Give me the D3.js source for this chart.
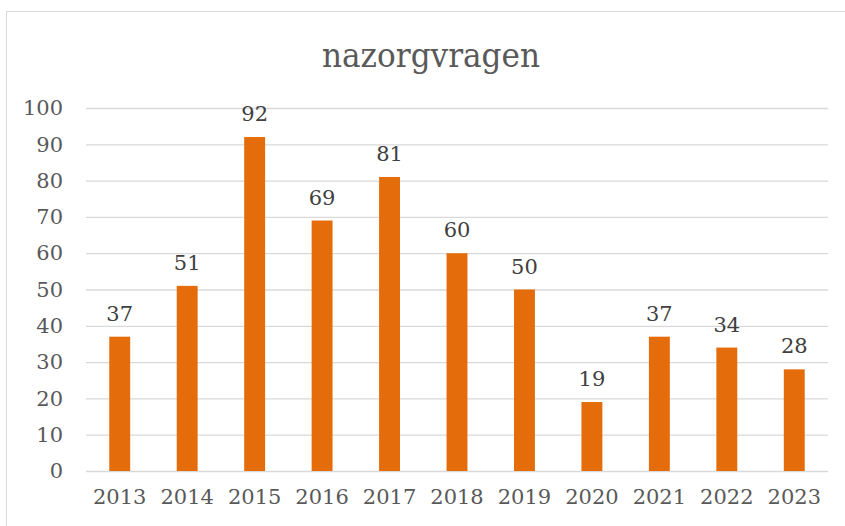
<!DOCTYPE html>
<html><head><meta charset="utf-8">
<script src="https://cdn.jsdelivr.net/npm/d3@7"></script>
<style>html,body{margin:0;padding:0;background:#fff;}svg{display:block;}</style>
</head><body>
<svg id="c" width="845" height="526"></svg>
<script>
const categories = ["2013","2014","2015","2016","2017","2018","2019","2020","2021","2022","2023"];
const values = [37, 51, 92, 69, 81, 60, 50, 19, 37, 34, 28];
const yTicks = [0,10,20,30,40,50,60,70,80,90,100];
const title = "nazorgvragen";

(function(){
const svg = d3.select("#c");
const font = "'DejaVu Serif', serif";
const pL = 86, pR = 828, pT = 108, pB = 471;

svg.append("rect").attr("x",6.5).attr("y",11.5).attr("width",900).attr("height",600)
  .attr("fill","#fff").attr("stroke","#d9d9d9").attr("stroke-width",1);

const x = d3.scaleBand().domain(categories).range([pL,pR]).paddingInner(0.69).paddingOuter(0.345);
const y = d3.scaleLinear().domain([0,100]).range([pB,pT]);

svg.append("g").selectAll("line").data(yTicks).join("line")
  .attr("x1",pL).attr("x2",pR).attr("y1",d=>y(d)+0.5).attr("y2",d=>y(d)+0.5)
  .attr("stroke","#d9d9d9").attr("stroke-width",1.3);

const yAxis = d3.axisLeft(y).tickValues(yTicks).tickSize(0).tickPadding(23);
const gy = svg.append("g").attr("transform",`translate(${pL},0)`).call(yAxis);
gy.select(".domain").remove();
gy.selectAll("text").attr("font-family",font).attr("font-size",21).attr("fill","#595959");

const xAxis = d3.axisBottom(x).tickSize(0).tickPadding(18);
const gx = svg.append("g").attr("transform",`translate(0,${pB})`).call(xAxis);
gx.select(".domain").remove();
gx.selectAll("text").attr("font-family",font).attr("font-size",21).attr("fill","#595959");

svg.append("g").selectAll("rect").data(values).join("rect")
  .attr("x",(d,i)=>x(categories[i]))
  .attr("width",x.bandwidth())
  .attr("y",d=>y(d))
  .attr("height",d=>pB-y(d))
  .attr("fill","#e46c0a");

svg.append("g").selectAll("text").data(values).join("text")
  .attr("x",(d,i)=>x(categories[i])+x.bandwidth()/2)
  .attr("y",d=>y(d)-16)
  .attr("text-anchor","middle")
  .attr("font-family",font).attr("font-size",21).attr("fill","#404040")
  .text(d=>d);

svg.append("text").attr("x",431).attr("y",67).attr("text-anchor","middle")
  .attr("font-family",font).attr("font-size",34).attr("fill","#595959")
  .attr("textLength",218).attr("lengthAdjust","spacingAndGlyphs")
  .text(title);
})();
</script>
</body></html>
